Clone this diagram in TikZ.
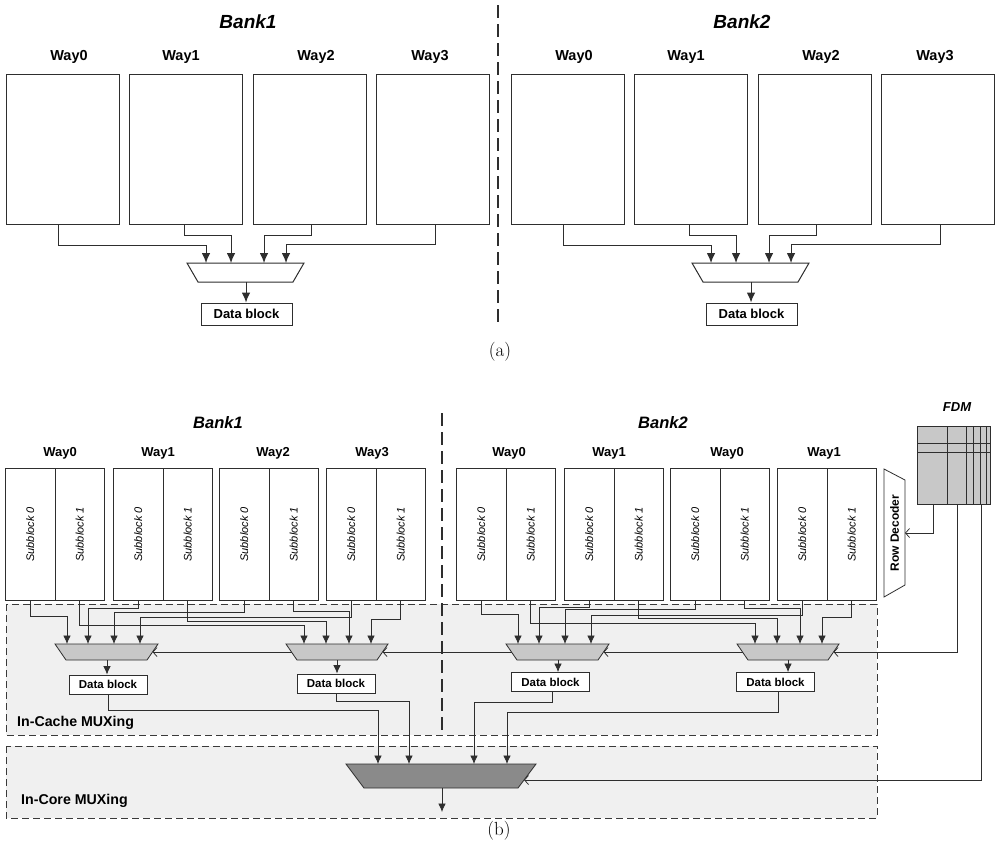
\documentclass[tikz,border=0pt]{standalone}
\usepackage{fontspec}
\newfontfamily\ar{Liberation Sans}
\usetikzlibrary{arrows.meta}
\definecolor{lc}{HTML}{2E2E2E}
\definecolor{muxgray}{HTML}{C8C8C8}
\definecolor{bigmux}{HTML}{8A8A8A}
\definecolor{regfill}{HTML}{F0F0F0}
\definecolor{dashc}{HTML}{3A3A3A}
\tikzset{
  waybox/.style={draw=lc, line width=1pt, fill=white, minimum width=113pt, minimum height=150pt, inner sep=0pt, anchor=north west},
  subbox/.style={draw=lc, line width=0.8pt, fill=white, minimum width=49.5pt, minimum height=132pt, inner sep=0pt, anchor=north west, font=\ar\itshape\fontsize{11}{13}\selectfont},
  banklblA/.style={font=\ar\bfseries\itshape\fontsize{19}{22}\selectfont, inner sep=0pt},
  waylblA/.style={font=\ar\bfseries\fontsize{14.5}{17}\selectfont, inner sep=0pt},
  banklblB/.style={font=\ar\bfseries\itshape\fontsize{16.5}{19}\selectfont, inner sep=0pt},
  waylblB/.style={font=\ar\bfseries\fontsize{13}{15}\selectfont, inner sep=0pt},
  dbA/.style={draw=lc, line width=1pt, fill=white, minimum width=91pt, minimum height=22pt, inner sep=0pt, font=\ar\bfseries\fontsize{13}{15}\selectfont},
  dbB/.style={draw=lc, line width=0.8pt, fill=white, minimum width=78pt, minimum height=19pt, inner sep=0pt, font=\ar\bfseries\fontsize{11.5}{13}\selectfont},
  muxA/.style={draw=lc, line width=1pt, fill=white},
  muxB/.style={draw=lc, line width=0.8pt, fill=muxgray},
  muxC/.style={draw=lc, line width=0.8pt, fill=bigmux},
  connA/.style={draw=lc, line width=1pt, -{Latex[length=10pt,width=8.5pt]}},
  conn/.style={draw=lc, line width=0.75pt, -{Latex[length=8.5pt,width=7.5pt]}},
  sel/.style={draw=lc, line width=0.75pt, -{Straight Barb[length=4pt,width=9pt]}},
  regbox/.style={draw=dashc, line width=0.9pt, dash pattern=on 7pt off 4pt, fill=regfill},
  divider/.style={draw=lc, line width=1.5pt, dash pattern=on 13pt off 6pt},
  reglbl/.style={font=\ar\bfseries\fontsize{14.2}{16}\selectfont, anchor=west, inner sep=0pt},
  capt/.style={font=\fontsize{19}{22}\selectfont, inner sep=0pt},
  fdmgrid/.style={draw=lc, line width=0.7pt},
  rdshape/.style={draw=lc, line width=0.8pt, fill=white},
  rdlbl/.style={font=\ar\bfseries\fontsize{12}{14}\selectfont, inner sep=0pt, rotate=90},
  fdmlbl/.style={font=\ar\bfseries\itshape\fontsize{13}{15}\selectfont, inner sep=0pt},
}
\begin{document}
\begin{tikzpicture}[x=1pt,y=-1pt]
\useasboundingbox (0,0) rectangle (995,852);

% ===================== (a) =====================
\draw[divider] (498,5) -- (498,325);
\node[banklblA] (A1-T) at (248,22) {Bank1};
\node[banklblA] (A2-T) at (742,22) {Bank2};
\foreach \bk/\dx in {1/0,2/505}{
  \node[waybox] (A\bk-W0) at (6+\dx,74) {};
  \node[waybox] (A\bk-W1) at (129+\dx,74) {};
  \node[waybox] (A\bk-W2) at (253+\dx,74) {};
  \node[waybox] (A\bk-W3) at (376+\dx,74) {};
  \node[waylblA] (A\bk-L0) at (69+\dx,57) {Way0};
  \node[waylblA] (A\bk-L1) at (181+\dx,57) {Way1};
  \node[waylblA] (A\bk-L2) at (316+\dx,57) {Way2};
  \node[waylblA] (A\bk-L3) at (430+\dx,57) {Way3};
  \draw[muxA] (187+\dx,263) -- (304+\dx,263) -- (293+\dx,282) -- (198+\dx,282) -- cycle;
  \coordinate (A\bk-i0) at (206+\dx,263);
  \coordinate (A\bk-i1) at (231+\dx,263);
  \coordinate (A\bk-i2) at (264+\dx,263);
  \coordinate (A\bk-i3) at (286+\dx,263);
  \coordinate (A\bk-o) at (246+\dx,282);
  \node[dbA] (A\bk-DB) at (246.5+\dx,314) {Data block};
  \draw[connA] ([xshift=-4.5pt]A\bk-W0.south) -- ++(0,20) -| (A\bk-i0);
  \draw[connA] ([xshift=-1.5pt]A\bk-W1.south) -- ++(0,10) -| (A\bk-i1);
  \draw[connA] ([xshift=1.5pt]A\bk-W2.south) -- ++(0,10) -| (A\bk-i2);
  \draw[connA] ([xshift=2.5pt]A\bk-W3.south) -- ++(0,19) -| (A\bk-i3);
  \draw[connA] (A\bk-o) -- (A\bk-o |- A\bk-DB.north);
}
\node[capt] (capA) at (500,352) {(a)};

% ===================== (b) =====================
\draw[regbox] (6,604) rectangle (877,735);
\draw[regbox] (6,746) rectangle (877,818);
\node[reglbl] (ICache) at (17,723) {In-Cache MUXing};
\node[reglbl] (ICore) at (21,801) {In-Core MUXing};
\draw[divider] (442,413) -- (442,735);

\node[banklblB] (B1-T) at (218,423) {Bank1};
\node[banklblB] (B2-T) at (663,423) {Bank2};
\node[waylblB] (B1-L0) at (60,453) {Way0};
\node[waylblB] (B1-L1) at (158,453) {Way1};
\node[waylblB] (B1-L2) at (273,453) {Way2};
\node[waylblB] (B1-L3) at (372,453) {Way3};
\node[waylblB] (B2-L0) at (509,453) {Way0};
\node[waylblB] (B2-L1) at (609,453) {Way1};
\node[waylblB] (B2-L2) at (727,453) {Way0};
\node[waylblB] (B2-L3) at (824,453) {Way1};

\foreach \bk/\dx/\qa/\qb/\qc/\qd/\qe/\qf/\qg/\qh in {1/0/616/608/612/617/625/621/611/619, 2/451/614/607/609/615/623/618/608/617}{
  \foreach \w/\wx in {0/5,1/113,2/219,3/326}{
    \node[subbox] (B\bk-W\w-S0) at (\wx+\dx,468) {\rotatebox{90}{Subblock 0}};
    \node[subbox] (B\bk-W\w-S1) at (\wx+\dx+49.5,468) {\rotatebox{90}{Subblock 1}};
  }
  \draw[muxB] (55+\dx,644) -- (158+\dx,644) -- (147+\dx,660) -- (66+\dx,660) -- cycle;
  \draw[muxB] (286+\dx,644) -- (388+\dx,644) -- (377+\dx,660) -- (297+\dx,660) -- cycle;
  \coordinate (B\bk-L1) at (67+\dx,644);
  \coordinate (B\bk-L2) at (88+\dx,644);
  \coordinate (B\bk-L3) at (114+\dx,644);
  \coordinate (B\bk-L4) at (140+\dx,644);
  \coordinate (B\bk-R1) at (304+\dx,644);
  \coordinate (B\bk-R2) at (326+\dx,644);
  \coordinate (B\bk-R3) at (349+\dx,644);
  \coordinate (B\bk-R4) at (371+\dx,644);
  \coordinate (B\bk-Lo) at (107+\dx,660);
  \coordinate (B\bk-Ro) at (337+\dx,660);
  \coordinate (B\bk-Lsr) at (152.5+\dx,652);
  \coordinate (B\bk-Lsl) at (60.5+\dx,652);
  \coordinate (B\bk-Rsr) at (382.5+\dx,652);
  \coordinate (B\bk-Rsl) at (291.5+\dx,652);
  \draw[conn] (B\bk-W0-S0.south) -- ++(0,\qa-600) -| (B\bk-L1);
  \draw[conn] (B\bk-W1-S0.south) -- ++(0,\qb-600) -| (B\bk-L2);
  \draw[conn] (B\bk-W2-S0.south) -- ++(0,\qc-600) -| (B\bk-L3);
  \draw[conn] (B\bk-W3-S0.south) -- ++(0,\qd-600) -| (B\bk-L4);
  \draw[conn] (B\bk-W0-S1.south) -- ++(0,\qe-600) -| (B\bk-R1);
  \draw[conn] (B\bk-W1-S1.south) -- ++(0,\qf-600) -| (B\bk-R2);
  \draw[conn] (B\bk-W2-S1.south) -- ++(0,\qg-600) -| (B\bk-R3);
  \draw[conn] (B\bk-W3-S1.south) -- ++(0,\qh-600) -| (B\bk-R4);
}

% data blocks
\node[dbB] (DB1) at (108,684.5) {Data block};
\node[dbB] (DB2) at (336,683.5) {Data block};
\node[dbB] (DB3) at (550.5,682) {Data block};
\node[dbB] (DB4) at (775.5,682) {Data block};
\draw[conn] (B1-Lo) -- (B1-Lo |- DB1.north);
\draw[conn] (B1-Ro) -- (B1-Ro |- DB2.north);
\draw[conn] (B2-Lo) -- (B2-Lo |- DB3.north);
\draw[conn] (B2-Ro) -- (B2-Ro |- DB4.north);

% big mux
\draw[muxC] (346,764) -- (536,764) -- (518,788) -- (364,788) -- cycle;
\coordinate (G1) at (378,764);
\coordinate (G2) at (409,764);
\coordinate (G3) at (474,764);
\coordinate (G4) at (507,764);
\coordinate (Go) at (442,788);
\coordinate (Gout) at (442,812);
\coordinate (Gs) at (524,780);
\draw[conn] (DB1.south) -- ++(0,16) -| (G1);
\draw[conn] (DB2.south) -- ++(0,8) -| (G2);
\draw[conn] ([xshift=1.5pt]DB3.south) -- ++(0,10) -| (G3);
\draw[conn] ([xshift=2.5pt]DB4.south) -- ++(0,20) -| (G4);
\draw[conn] (Go) -- (Gout);

% row decoder
\draw[rdshape] (884,469) -- (905,480) -- (905,585) -- (884,597) -- cycle;
\node[rdlbl] (RD) at (894.5,533) {Row Decoder};
\coordinate (RDin) at (905,533);

% FDM
\node[fdmlbl] (FDM-T) at (957,407) {FDM};
\node[draw=lc, line width=0.8pt, fill=muxgray, minimum width=73pt, minimum height=78pt, inner sep=0pt, anchor=north west] (FDM) at (917,426) {};
\draw[fdmgrid] (917,443) -- (990,443);
\draw[fdmgrid] (917,452) -- (990,452);
\foreach \gx in {947,966,973,980,986}{
  \draw[fdmgrid] (\gx,426) -- (\gx,504);
}

% select lines
\draw[sel] ([xshift=-20.5pt]FDM.south) |- (RDin);
\draw[sel] ([xshift=3.5pt]FDM.south) |- (B2-Rsr);
\draw[sel] (B2-Rsl) -- (B2-Lsr);
\draw[sel] (B2-Lsl) -- (B1-Rsr);
\draw[sel] (B1-Rsl) -- (B1-Lsr);
\draw[sel] ([xshift=27.5pt]FDM.south) |- (Gs);

\node[capt] (capB) at (499,831) {(b)};
\end{tikzpicture}
\end{document}
